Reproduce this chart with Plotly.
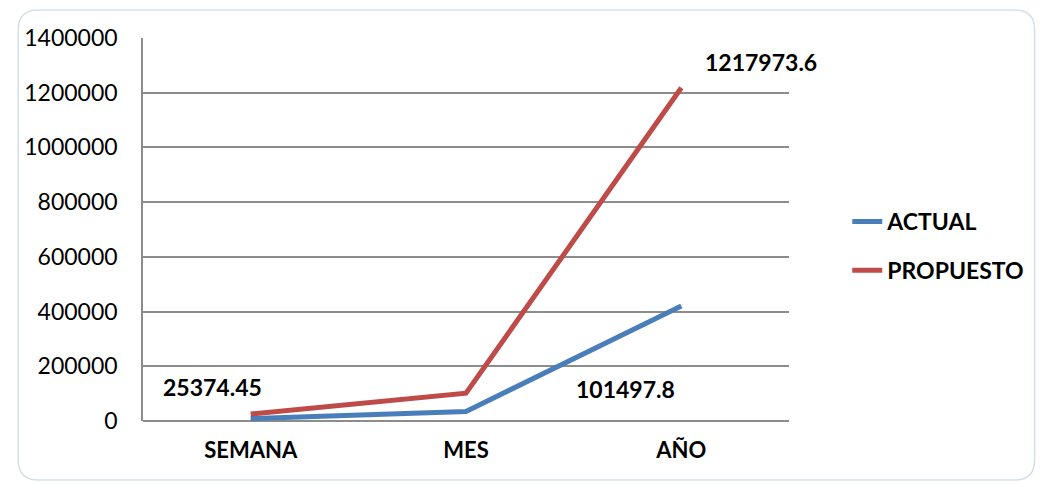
import plotly.graph_objects as go

categories = ["SEMANA", "MES", "AÑO"]
actual = [8750, 35000, 420000]
propuesto = [25374.45, 101497.8, 1217973.6]
y_ticks = [0, 200000, 400000, 600000, 800000, 1000000, 1200000, 1400000]

W, H = 1040, 484
L, R, T, B = 143, 250, 38, 63
FONT = "Lato"

fig = go.Figure()
fig.add_trace(go.Scatter(x=categories, y=actual, mode="lines", name="ACTUAL",
                         line=dict(color="#4a7ebb", width=5), legendgroup="a"))
fig.add_trace(go.Scatter(x=categories, y=propuesto, mode="lines", name="PROPUESTO",
                         line=dict(color="#be4b48", width=5), legendgroup="b"))

# data labels (propuesto series)
label_shifts = [(-38, 27), (159, 4), (80, 26)]
for cat, val, (dx, dy) in zip(categories, propuesto, label_shifts):
    fig.add_annotation(x=cat, y=val, text=f"<b>{val}</b>",
                       showarrow=False, xshift=dx, yshift=dy,
                       font=dict(family=FONT, size=23, color="#000"))

# rounded outer border in pixel-derived paper coords
def px(xp):
    return (xp - L) / (W - L - R)
def py(yp):
    return (H - B - yp) / (H - T - B)
x0, y0, x1, y1, r = 18, 10, 1036, 480, 20
path = (f"M {px(x0+r)},{py(y0)} L {px(x1-r)},{py(y0)} Q {px(x1)},{py(y0)} {px(x1)},{py(y0+r)} "
        f"L {px(x1)},{py(y1-r)} Q {px(x1)},{py(y1)} {px(x1-r)},{py(y1)} "
        f"L {px(x0+r)},{py(y1)} Q {px(x0)},{py(y1)} {px(x0)},{py(y1-r)} "
        f"L {px(x0)},{py(y0+r)} Q {px(x0)},{py(y0)} {px(x0+r)},{py(y0)} Z")
fig.add_shape(type="path", path=path, xref="paper", yref="paper",
              line=dict(color="#d5dfea", width=1.5), layer="below")

fig.update_layout(
    width=W, height=H,
    margin=dict(l=L, r=R, t=T, b=B),
    paper_bgcolor="white", plot_bgcolor="white",
    font=dict(family=FONT, color="#000"),
    showlegend=True,
    legend=dict(x=1.0885, y=0.457, xanchor="left", yanchor="middle",
                font=dict(family=FONT, size=23, color="#000", weight="bold"),
                tracegroupgap=16, bgcolor="rgba(0,0,0,0)"),
    xaxis=dict(type="category", range=[-0.5, 2.5], showgrid=False,
               showline=False, ticks="", tickfont=dict(family=FONT, size=22, weight="bold"),
               ticklabelstandoff=14),
    yaxis=dict(range=[0, 1400000], tickvals=y_ticks, ticktext=[str(v) for v in y_ticks],
               showgrid=True, gridcolor="#8c8c8c", gridwidth=1.5,
               showline=True, linecolor="#8c8c8c", linewidth=1.5,
               zeroline=True, zerolinecolor="#8c8c8c", zerolinewidth=1.5,
               ticks="", tickfont=dict(family=FONT, size=23), ticklabelstandoff=19),
)

fig.write_html("out.html")
